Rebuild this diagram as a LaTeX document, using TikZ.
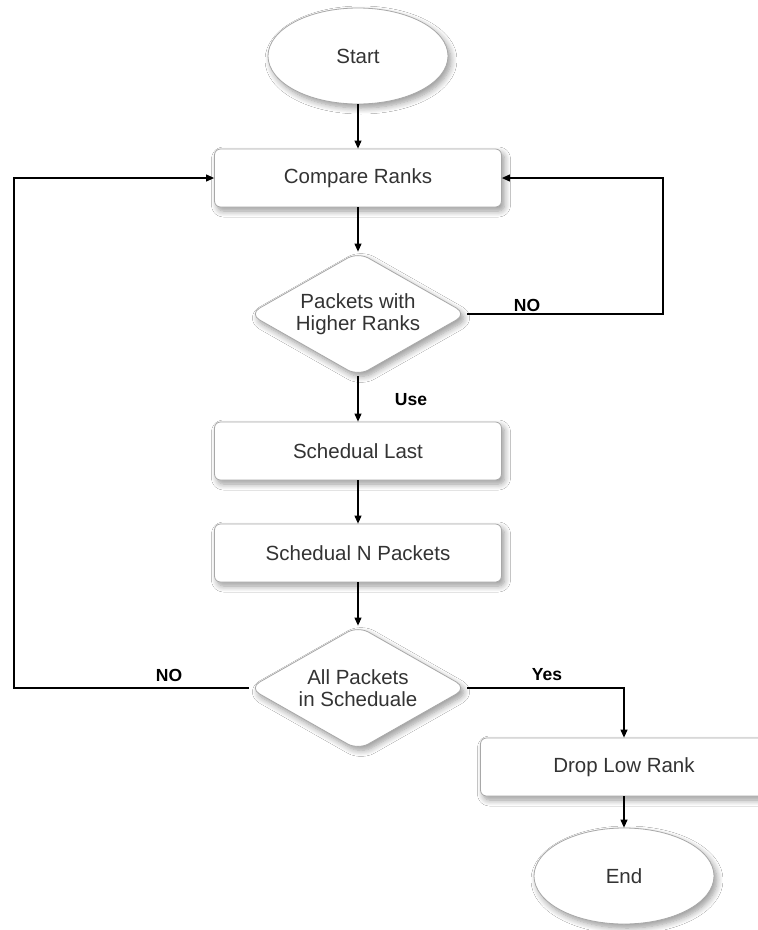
\documentclass[tikz,border=0pt]{standalone}
\usepackage{fontspec}
\setmainfont{Liberation Sans}
\usetikzlibrary{shapes.geometric,arrows.meta,shadows.blur}
\definecolor{txt}{HTML}{333333}
\definecolor{edge}{HTML}{A8A8A8}
\tikzset{
  shd/.style={blur shadow={shadow xshift=3pt,shadow yshift=-4pt,shadow blur steps=8,shadow blur radius=6pt,shadow opacity=40}},
  base/.style={draw=edge,line width=0.8pt,fill=white,text=txt,inner sep=0pt,font=\fontsize{20.5}{22}\selectfont,shd},
  term/.style={base,ellipse,minimum width=180pt,minimum height=96pt},
  proc/.style={base,rectangle,rounded corners=6pt,minimum width=287pt,minimum height=58pt},
  dec/.style={base,diamond,aspect=1.75,rounded corners=12pt,minimum width=218pt,minimum height=124pt,align=center},
  arr/.style={draw=black,line width=1.1pt,-{Triangle[length=8pt,width=7pt]}},
  lab/.style={font=\bfseries\fontsize{17.5}{20}\selectfont,text=black,inner sep=0pt}
}
\begin{document}
\begin{tikzpicture}[x=1pt,y=-1pt]
\useasboundingbox[fill=white] (0,0) rectangle (758,930);
\node[term] (start) at (358,56) {Start};
\node[proc] (compare) at (358,178) {Compare Ranks};
\node[dec] (d1) at (358,314) {Packets with\\Higher Ranks};
\node[proc] (last) at (358,451) {Schedual Last};
\node[proc] (npk) at (358,553) {Schedual N Packets};
\node[dec] (d2) at (358,688) {All Packets\\in Scheduale};
\node[proc] (drop) at (624,767) {Drop Low Rank};
\node[term] (end) at (624,876) {End};
\coordinate (rr) at (663,246);
\coordinate (ll) at (14,430);
\draw[arr] (start) -- (compare);
\draw[arr] (compare) -- (d1);
\draw[arr] (d1.east) -| (rr) |- (compare.east);
\draw[arr] (d1) -- (last);
\draw[arr] (last) -- (npk);
\draw[arr] (npk) -- (d2);
\draw[arr] (d2.west) -| (ll) |- (compare.west);
\draw[arr] (d2.east) -| (drop.north);
\draw[arr] (drop) -- (end);
\node[lab] (lno1) at (527,305) {NO};
\node[lab] (luse) at (411,400) {Use};
\node[lab] (lno2) at (169,675) {NO};
\node[lab] (lyes) at (547,675) {Yes};
\end{tikzpicture}
\end{document}
